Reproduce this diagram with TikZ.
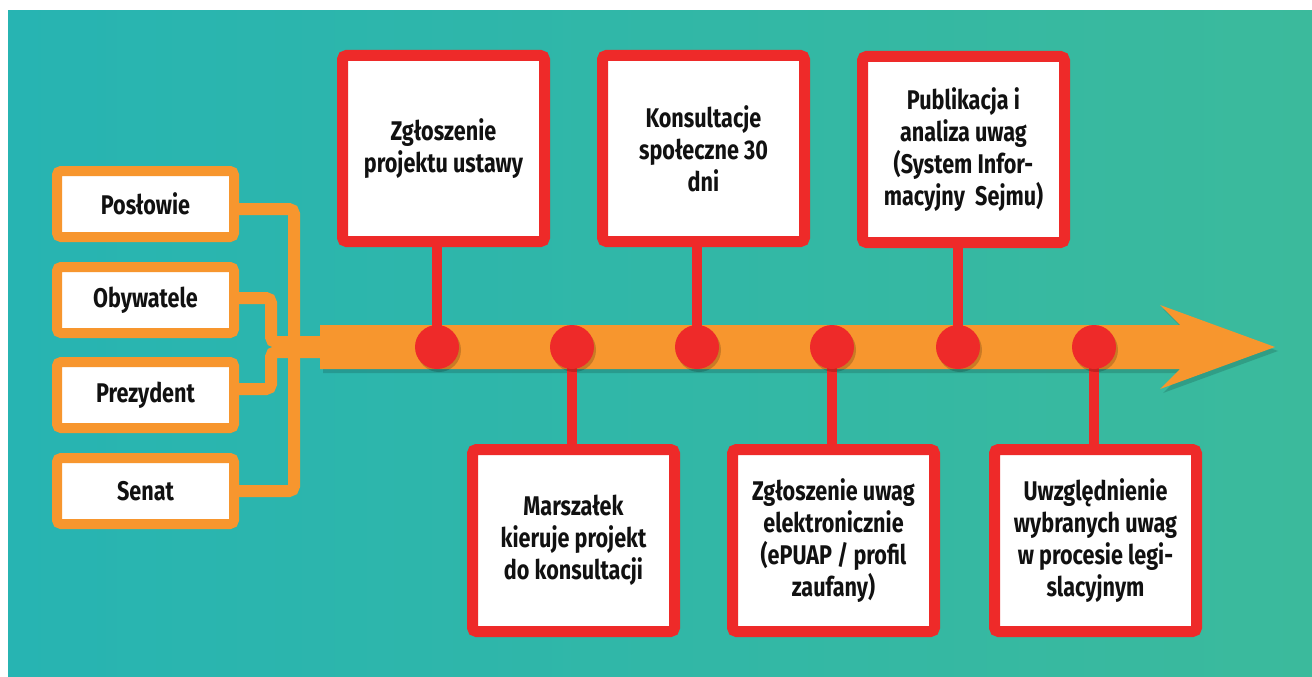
\documentclass[tikz,border=0pt]{standalone}
\usepackage{fontspec}
\newfontfamily\labfont{Fira Sans}[FakeStretch=0.8]
\usetikzlibrary{shadows}
\pgfdeclarelayer{bottom}
\pgfdeclarelayer{background}
\pgfsetlayers{bottom,background,main}
\definecolor{tealL}{HTML}{27B4B2}
\definecolor{tealR}{HTML}{3BBA9C}
\definecolor{orng}{HTML}{F7962E}
\definecolor{redc}{HTML}{EE2A29}
\definecolor{ink}{HTML}{111111}
\tikzset{
  lbl/.style={font=\labfont\bfseries\fontsize{27}{32}\selectfont, text=ink, align=center, inner sep=0pt},
  redbox/.style={lbl, draw=redc, fill=white, line width=11pt, rounded corners=4pt,
    minimum width=202pt, minimum height=186pt,
    drop shadow={shadow xshift=3pt, shadow yshift=-4pt, opacity=0.18, fill=black}},
  redboxlow/.style={redbox, minimum height=182pt},
  orbox/.style={lbl, draw=orng, fill=white, line width=10pt, rounded corners=4pt,
    minimum width=177pt, minimum height=66pt,
    drop shadow={shadow xshift=3pt, shadow yshift=-4pt, opacity=0.18, fill=black}},
  orline/.style={draw=orng, line width=12pt, rounded corners=5pt},
  stemline/.style={draw=redc, line width=10pt},
  dotc/.style={circle, fill=redc, minimum size=44pt, inner sep=0pt,
    drop shadow={shadow xshift=2pt, shadow yshift=-3pt, opacity=0.18, fill=black}},
}
\begin{document}
\begin{tikzpicture}[x=1pt,y=-1pt]
\useasboundingbox (0,0) rectangle (1312,677);
\begin{pgfonlayer}{bottom}
\fill[white] (0,0) rectangle (1312,677);
\shade[left color=tealL, right color=tealR] (8,11) rectangle (1312,677);
\fill[orng, drop shadow={shadow xshift=3pt, shadow yshift=-4pt, opacity=0.15, fill=black}]
  (320,325) -- (1180,325) -- (1160,305) -- (1275,347) -- (1160,389) -- (1180,369) -- (320,369) -- cycle;
\end{pgfonlayer}

\coordinate (j) at (320,347);

% source boxes
\node[orbox] (p) at (145.5,204) {Posłowie};
\node[orbox] (o) at (145.5,300) {Obywatele};
\node[orbox] (z) at (145.5,395) {Prezydent};
\node[orbox] (s) at (145.5,491) {Senat};

\coordinate (jA) at (294,347);
\coordinate (jO) at (271,342);
\coordinate (jP) at (271,352);
\begin{pgfonlayer}{background}
\draw[orline] ([yshift=-5pt]p.east) -| (jA) -- (j);
\draw[orline] (s.east) -| (jA);
\draw[orline] ([yshift=2pt]o.east) -| (jO) -- (jO -| j);
\draw[orline] ([yshift=6pt]z.east) -| (jP) -- (jP -| j);
\fill[orng] (300,337) rectangle (322,358);
\end{pgfonlayer}

% timeline boxes
\node[redbox] (b1) at (443.5,148.5) {Zgłoszenie\\projektu ustawy};
\node[redbox] (b2) at (703.5,148.5) {Konsultacje\\społeczne 30\\dni};
\node[redbox] (b3) at (963.5,149.5) {Publikacja i\\analiza uwag\\(System Infor-\\macyjny\ \ Sejmu)};
\node[redboxlow] (b4) at (573.5,540.5) {Marszałek\\kieruje projekt\\do konsultacji};
\node[redboxlow] (b5) at (833.5,540.5) {Zgłoszenie uwag\\elektronicznie\\(ePUAP / profil\\zaufany)};
\node[redboxlow] (b6) at (1095.5,540.5) {Uwzględnienie\\wybranych uwag\\w procesie legi-\\slacyjnym};

% dot positions
\coordinate (d1) at (437,347);
\coordinate (d2) at (572,347);
\coordinate (d3) at (697,347);
\coordinate (d4) at (832,347);
\coordinate (d5) at (958,347);
\coordinate (d6) at (1094,347);

\begin{pgfonlayer}{background}
\draw[stemline] (d1) -- (d1 |- b1.south);
\draw[stemline] (d3) -- (d3 |- b2.south);
\draw[stemline] (d5) -- (d5 |- b3.south);
\draw[stemline] (d2) -- (d2 |- b4.north);
\draw[stemline] (d4) -- (d4 |- b5.north);
\draw[stemline] (d6) -- (d6 |- b6.north);
\foreach \d in {d1,d2,d3,d4,d5,d6} {\node[dotc] (\d c) at (\d) {};}
\end{pgfonlayer}
\end{tikzpicture}
\end{document}
